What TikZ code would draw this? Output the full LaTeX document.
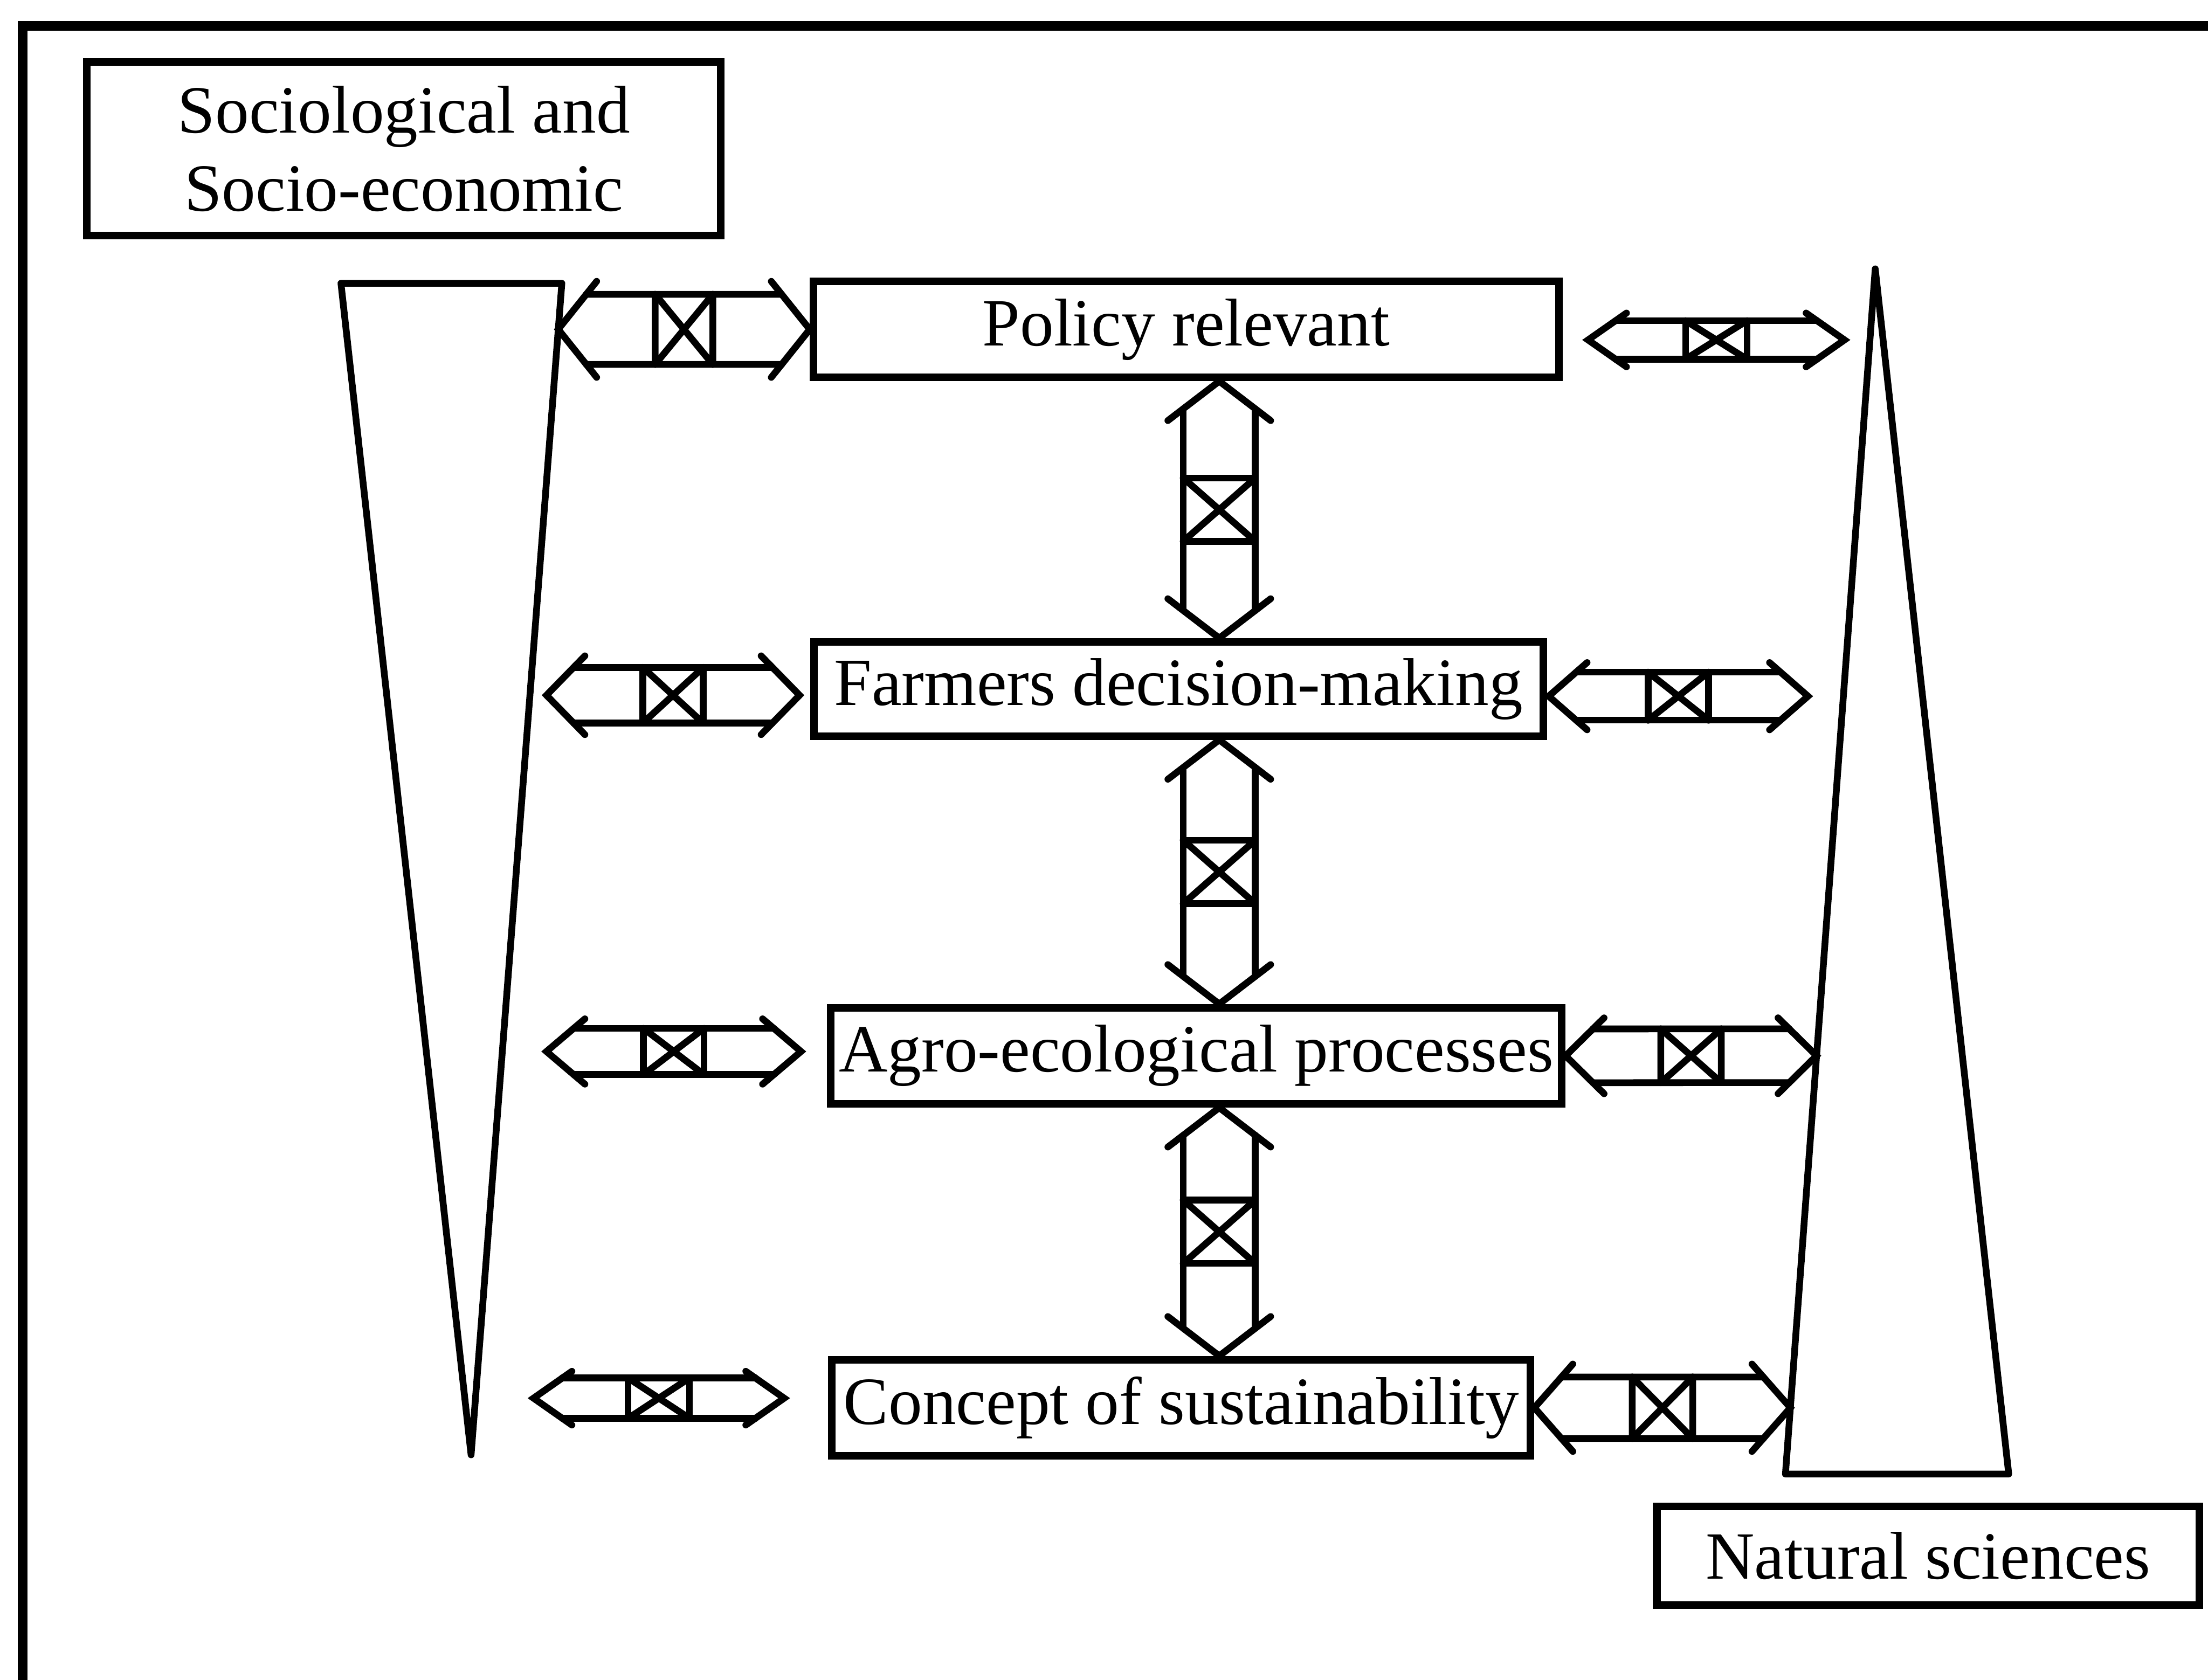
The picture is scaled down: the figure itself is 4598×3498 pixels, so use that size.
\documentclass[tikz,border=0pt]{standalone}
\usepackage{fontspec}
\setmainfont{Liberation Serif}
\usetikzlibrary{calc}

% Hollow double-headed block arrow with a crossed box in the middle.
% #1 from, #2 to, #3 shaft half-width, #4 head half-width,
% #5 head length, #6 half-length of the crossed box (all in 0.01cm units)
\newcommand\linkduct[6]{%
  \pgfmathsetlengthmacro\dS{#3*0.01cm}%
  \pgfmathsetlengthmacro\dH{#4*0.01cm}%
  \pgfmathsetlengthmacro\dL{#5*0.01cm}%
  \pgfmathsetlengthmacro\dB{#6*0.01cm}%
  \pgfmathsetlengthmacro\dT{#5*#3/#4*0.01cm}%
  \draw[duct] ($(#1)!\dL!(#2)!\dH!90:(#2)$) -- (#1) -- ($(#1)!\dL!(#2)!\dH!-90:(#2)$);
  \draw[duct] ($(#2)!\dL!(#1)!\dH!90:(#1)$) -- (#2) -- ($(#2)!\dL!(#1)!\dH!-90:(#1)$);
  \draw[duct] ($(#1)!\dT!(#2)!\dS!90:(#2)$) -- ($(#2)!\dT!(#1)!\dS!-90:(#1)$);
  \draw[duct] ($(#1)!\dT!(#2)!\dS!-90:(#2)$) -- ($(#2)!\dT!(#1)!\dS!90:(#1)$);
  \coordinate (dm1) at ($(#1)!0.5!(#2)!\dB!(#1)$);
  \coordinate (dm2) at ($(#1)!0.5!(#2)!\dB!(#2)$);
  \draw[duct] ($(dm1)!\dS!90:(#2)$) -- ($(dm1)!\dS!-90:(#2)$);
  \draw[duct] ($(dm2)!\dS!90:(#2)$) -- ($(dm2)!\dS!-90:(#2)$);
  \draw[duct] ($(dm1)!\dS!90:(#2)$) -- ($(dm2)!\dS!-90:(#2)$);
  \draw[duct] ($(dm1)!\dS!-90:(#2)$) -- ($(dm2)!\dS!90:(#2)$);
}

\begin{document}
\begin{tikzpicture}[x=0.01cm,y=-0.01cm,
  duct/.style={line width=4pt, line join=miter, line cap=round},
  labelbox/.style={draw, line width=4.5pt, inner sep=0pt, align=center,
    font=\fontsize{40pt}{46pt}\selectfont},
  wedge/.style={draw, line width=4pt, line join=round}]

\useasboundingbox (0,0) rectangle (4598,3498);
\fill[white] (0,0) rectangle (4598,3498);

% outer frame (runs off the right and bottom edges)
\draw[line width=5.8pt] (47,3520) -- (47,54) -- (4620,54);

% discipline labels
\node[labelbox, minimum width=13.19cm, minimum height=3.61cm] (socio) at (841,310)
  {Sociological and\\Socio-economic};
\node[labelbox, minimum width=11.29cm, minimum height=2.05cm] (natural) at (4015,3240)
  {Natural sciences};

% levels
\node[labelbox, minimum width=15.51cm, minimum height=2.0cm] (policy) at (2470,686) {Policy relevant};
\node[labelbox, minimum width=15.18cm, minimum height=1.96cm] (farmers) at (2454,1435) {Farmers decision-making};
\node[labelbox, minimum width=15.22cm, minimum height=2.0cm] (agro) at (2491,2199) {Agro-ecological processes};
\node[labelbox, minimum width=14.54cm, minimum height=2.0cm] (concept) at (2460,2932) {Concept of sustainability};

% wedges
\coordinate (lt-a) at (710,590);
\coordinate (lt-b) at (1170,590);
\coordinate (lt-c) at (981,3030);
\coordinate (rt-a) at (3905,560);
\coordinate (rt-b) at (4183,3070);
\coordinate (rt-c) at (3718,3070);
\draw[wedge] (lt-a) -- (lt-b) -- (lt-c) -- cycle;
\draw[wedge] (rt-a) -- (rt-b) -- (rt-c) -- cycle;

% arrow end points
\coordinate (axis) at (2539,0);
\coordinate (v1a) at (policy.south -| axis);
\coordinate (v1b) at (farmers.north -| axis);
\coordinate (v2a) at (farmers.south -| axis);
\coordinate (v2b) at (agro.north -| axis);
\coordinate (v3a) at (agro.south -| axis);
\coordinate (v3b) at (concept.north -| axis);

\coordinate (h1a) at (intersection of lt-b--lt-c and policy.west--policy.east);
\coordinate (h1b) at (policy.west);
\coordinate (h2a) at (3307,708);
\coordinate (h2b) at (3841,708);
\coordinate (h3a) at (1138,1448);
\coordinate (h3b) at (1665,1448);
\coordinate (h4a) at (3225,1450);
\coordinate (h4b) at (3765,1450);
\coordinate (h5a) at (1138,2190);
\coordinate (h5b) at (1668,2190);
\coordinate (h6a) at (agro.east);
\coordinate (h6b) at (intersection of rt-a--rt-c and agro.west--agro.east);
\coordinate (h7a) at (1111,2912);
\coordinate (h7b) at (1633,2912);
\coordinate (h8a) at (concept.east);
\coordinate (h8b) at (intersection of rt-a--rt-c and concept.west--concept.east);

% vertical links
\linkduct{v1a}{v1b}{75}{107}{82}{66}
\linkduct{v2a}{v2b}{75}{107}{82}{66}
\linkduct{v3a}{v3b}{75}{107}{82}{66}

% horizontal links
\linkduct{h1a}{h1b}{73}{100}{80}{60}
\linkduct{h2a}{h2b}{40}{56}{80}{64}
\linkduct{h3a}{h3b}{58}{82}{80}{63}
\linkduct{h4a}{h4b}{50}{70}{80}{63}
\linkduct{h5a}{h5b}{48}{68}{80}{63}
\linkduct{h6a}{h6b}{56}{79}{80}{63}
\linkduct{h7a}{h7b}{42}{56}{80}{64}
\linkduct{h8a}{h8b}{64}{91}{80}{63}

\end{tikzpicture}
\end{document}
